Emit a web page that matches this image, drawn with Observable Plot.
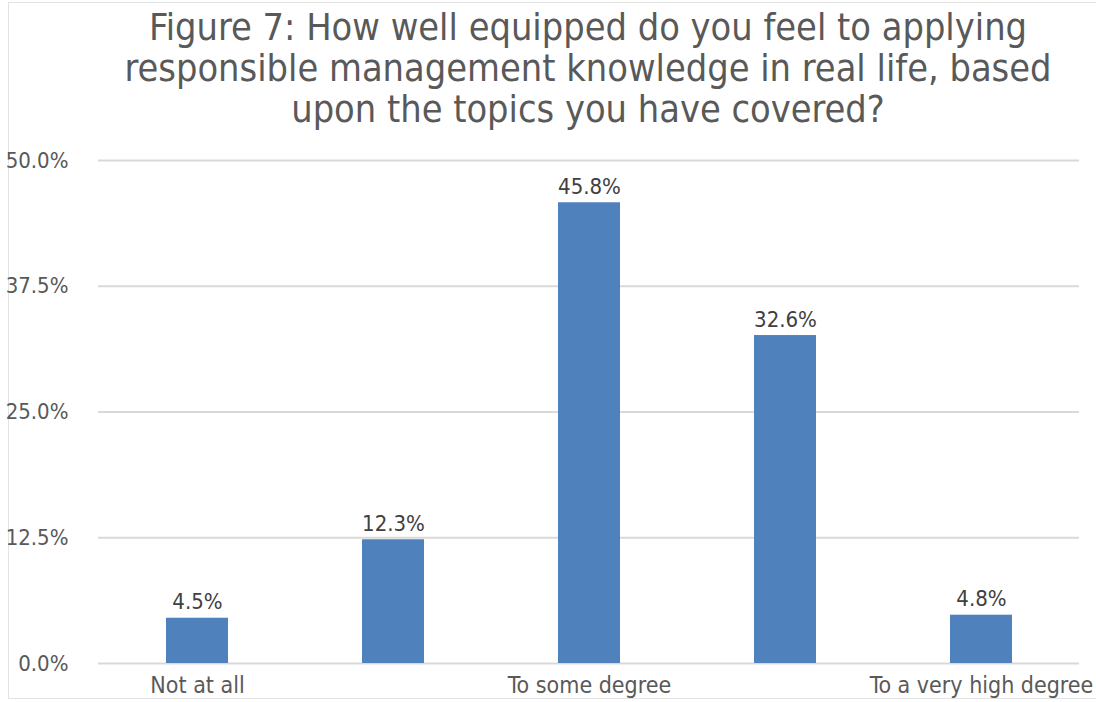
<!DOCTYPE html>
<html>
<head>
<meta charset="utf-8">
<script src="https://cdn.jsdelivr.net/npm/d3@7"></script>
<script src="https://cdn.jsdelivr.net/npm/@observablehq/plot@0.6"></script>
<style>
  html, body { margin: 0; padding: 0; background: #fff; }
  #wrap { position: relative; width: 1096px; height: 702px; overflow: hidden; }
  #frame { position: absolute; left: 8px; top: 2px; width: 1100px; height: 697px; border: 1px solid #e3e3e3; box-sizing: border-box; }
  #title {
    position: absolute; left: 80px; width: 1016px; top: 7px;
    text-align: center; color: #595959;
    font-family: "DejaVu Sans Condensed", "DejaVu Sans", sans-serif; font-stretch: condensed;
    font-size: 37.6px; line-height: 41px;
  }
  #chart { position: absolute; left: 0; top: 140px; }
</style>
</head>
<body>
<div id="wrap">
  <div id="frame"></div>
  <div id="title">Figure 7: How well equipped do you feel to applying<br>responsible management knowledge in real life, based<br>upon the topics you have covered?</div>
  <div id="chart"></div>
</div>
<script>
// Answer options (only some are labelled on the axis) and the share of respondents for each
const tickLabels = ["Not at all", "", "To some degree", "", "To a very high degree"];
const shares = [4.5, 12.3, 45.8, 32.6, 4.8];
const yTicks = [0, 12.5, 25, 37.5, 50];

const data = shares.map((v, i) => ({i, v}));
const pct = d => d.toFixed(1) + "%";

const chart = Plot.plot({
  width: 1096,
  height: 562,
  marginLeft: 98,
  marginRight: 17,
  marginTop: 20,
  marginBottom: 39,
  style: {
    fontFamily: '"DejaVu Sans Condensed", "DejaVu Sans", sans-serif',
    fontStretch: "condensed",
    fontSize: "22px",
    color: "#595959",
    background: "transparent"
  },
  x: {domain: d3.range(shares.length), paddingInner: 0.684, paddingOuter: 0.342, label: null},
  y: {domain: [0, 50], label: null},
  marks: [
    Plot.gridY(yTicks, {stroke: "#d9d9d9", strokeOpacity: 1, strokeWidth: 2}),
    Plot.barY(data, {x: "i", y: "v", fill: "#4f81bd"}),
    Plot.text(data, {x: "i", y: "v", text: d => pct(d.v), lineAnchor: "bottom", dy: -9, fill: "#404040"}),
    Plot.axisY(yTicks, {tickSize: 0, tickPadding: 30, tickFormat: pct, label: null, fill: "#595959"}),
    Plot.axisX({tickSize: 0, tickPadding: 13, tickFormat: i => tickLabels[i], label: null, fill: "#595959", fontSize: 23})
  ]
});
document.getElementById("chart").appendChild(chart);
</script>
</body>
</html>
